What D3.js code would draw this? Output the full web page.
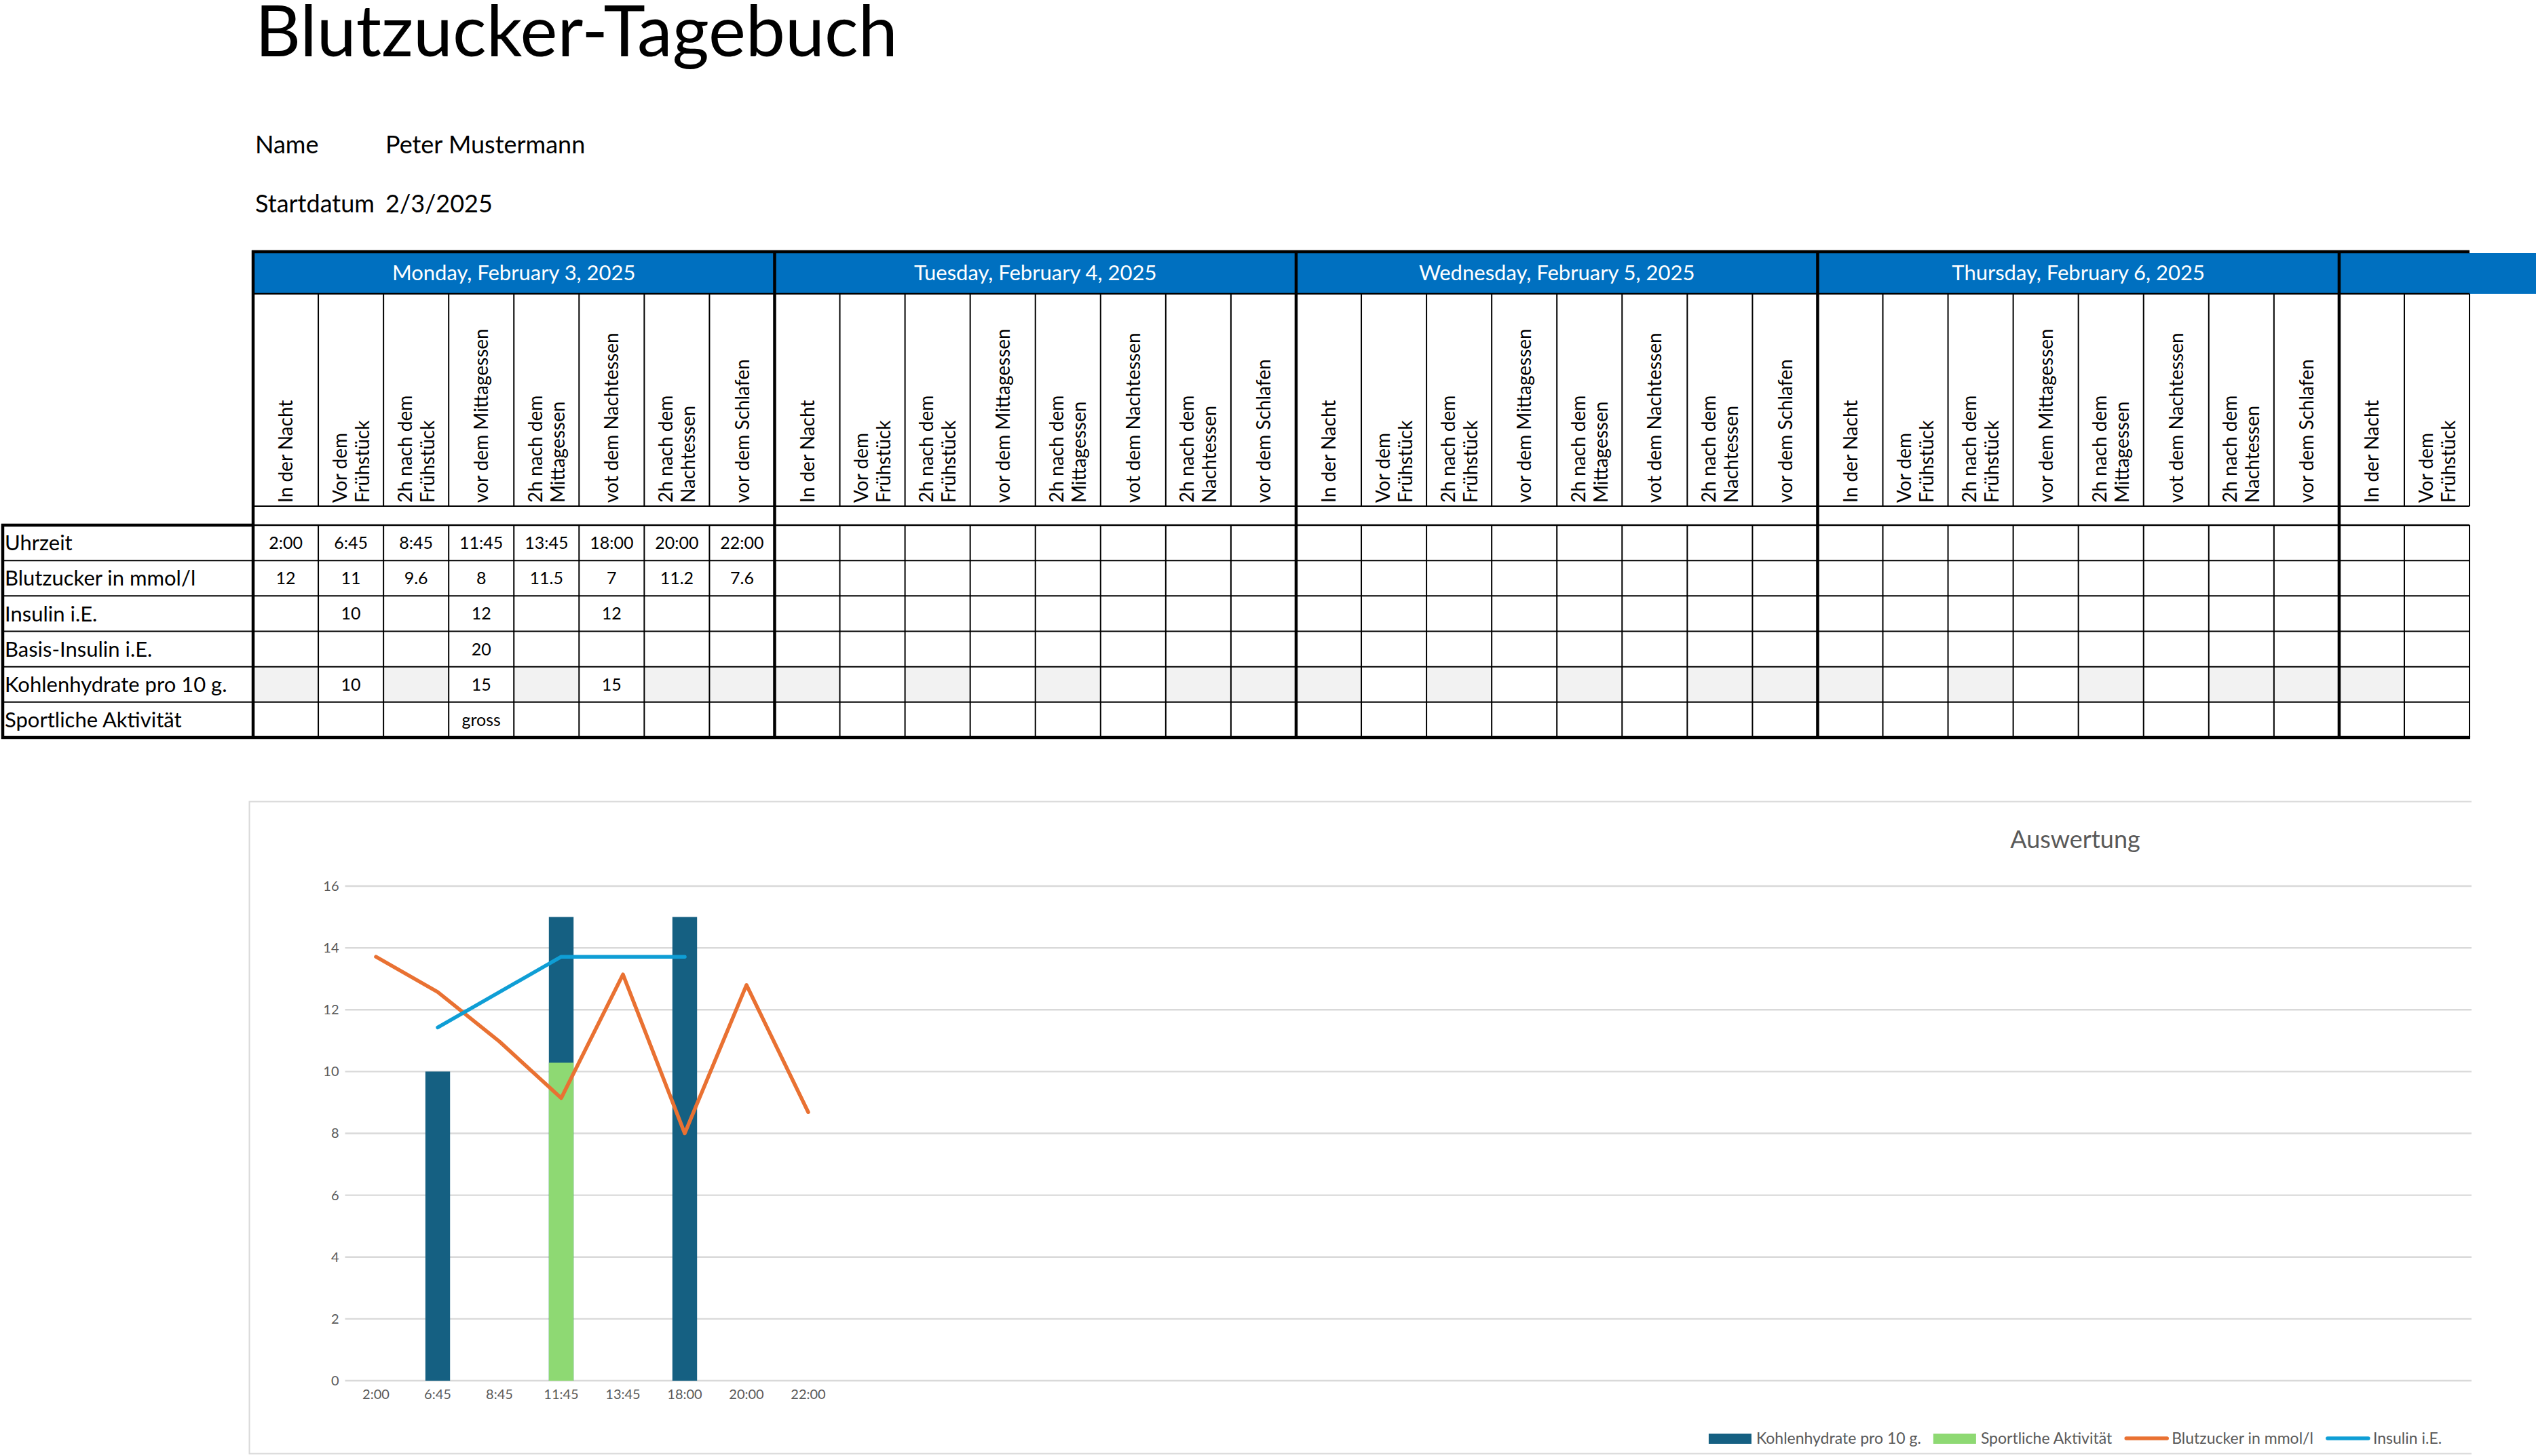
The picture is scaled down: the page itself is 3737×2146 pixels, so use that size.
<!DOCTYPE html>
<html lang="de">
<head>
<meta charset="utf-8">
<title>Blutzucker-Tagebuch</title>
<script src="https://cdn.jsdelivr.net/npm/d3@7"></script>
<style>
  html, body { margin: 0; padding: 0; background: #fff; }
  svg { display: block; font-family: Lato, "Open Sans", sans-serif; }
</style>
</head>
<body>
<svg id="blatt" width="3737" height="2146"></svg>
<script>
/*
    Blutzucker-Tagebuch
    -------------------
    Tabelle mit Messwerten und darunter das Diagramm "Auswertung".
*/

"use strict";

// Kopf
var titel = "Blutzucker-Tagebuch";
var kopfLabels = ["Name", "Startdatum"];
var kopfWerte = ["Peter Mustermann", "2/3/2025"];

// Tage und Messzeitpunkte
var tage = ["Monday, February 3, 2025", "Tuesday, February 4, 2025", "Wednesday, February 5, 2025",
    "Thursday, February 6, 2025", "Friday, February 7, 2025", "Saturday, February 8, 2025", "Sunday, February 9, 2025"];
var zeitpunkte = ["In der Nacht", "Vor dem\nFrühstück", "2h nach dem\nFrühstück", "vor dem Mittagessen",
    "2h nach dem\nMittagessen", "vot dem Nachtessen", "2h nach dem\nNachtessen", "vor dem Schlafen"];
var zeilen = ["Uhrzeit", "Blutzucker in mmol/l", "Insulin i.E.", "Basis-Insulin i.E.",
    "Kohlenhydrate pro 10 g.", "Sportliche Aktivität"];

// Messwerte Montag
var uhrzeiten = ["2:00", "6:45", "8:45", "11:45", "13:45", "18:00", "20:00", "22:00"];
var blutzucker = [12, 11, 9.6, 8, 11.5, 7, 11.2, 7.6];
var insulin = [null, 10, null, 12, null, 12, null, null];
var basisInsulin = [null, null, null, 20, null, null, null, null];
var kohlenhydrate = [null, 10, null, 15, null, 15, null, null];
var sport = [null, null, null, "gross", null, null, null, null];
// "gross" als Zahl im Diagramm (Sekundärachse)
var sportWert = [null, null, null, 9, null, null, null, null];

// Diagramm
var diagrammTitel = "Auswertung";
var legende = ["Kohlenhydrate pro 10 g.", "Sportliche Aktivität", "Blutzucker in mmol/l", "Insulin i.E."];

var farben = {
    blau: "#0070C0",
    kohlenhydrate: "#156082",
    sport: "#8ED973",
    blutzucker: "#E97132",
    insulin: "#0F9ED5",
    raster: "#D9D9D9",
    text: "#595959",
    grau: "#F2F2F2"
};

var svg = d3.select("#blatt");

// ---------- Kopf ----------
svg.append("text")
    .attr("x", 376).attr("y", 83)
    .style("font-size", "104px")
    .text(titel);

svg.selectAll("text.kopf")
    .data(kopfLabels)
    .enter().append("text")
    .attr("class", "kopf")
    .attr("x", 376)
    .attr("y", function (d, i) { return 226 + i * 87; })
    .style("font-size", "36px")
    .text(function (d) { return d; });

svg.selectAll("text.kopfwert")
    .data(kopfWerte)
    .enter().append("text")
    .attr("class", "kopfwert")
    .attr("x", 568)
    .attr("y", function (d, i) { return 226 + i * 87; })
    .style("font-size", "36px")
    .text(function (d) { return d; });

// ---------- Tabelle ----------
var sichtbareSpalten = 34;
var spaltenBreite = 96.06;
var tabLinks = 373;
var tabRechts = tabLinks + sichtbareSpalten * spaltenBreite;
var spalte = d3.scaleBand().domain(d3.range(sichtbareSpalten)).range([tabLinks, tabRechts]);
var zeile = d3.scaleBand().domain(d3.range(zeilen.length)).range([774, 1087]);

var tabelle = svg.append("g");

// Tagesköpfe (blau)
var sichtbareTage = d3.range(Math.ceil(sichtbareSpalten / 8));
tabelle.selectAll("rect.tag")
    .data(sichtbareTage)
    .enter().append("rect")
    .attr("class", "tag")
    .attr("x", function (d) { return spalte(d * 8); })
    .attr("y", 373)
    .attr("width", function (d) {
        return (d + 1) * 8 <= sichtbareSpalten ? 8 * spaltenBreite : 3737 - spalte(d * 8);
    })
    .attr("height", 60)
    .style("fill", farben.blau);

tabelle.selectAll("text.tag")
    .data(sichtbareTage.filter(function (d) { return (d + 1) * 8 <= sichtbareSpalten; }))
    .enter().append("text")
    .attr("class", "tag")
    .attr("x", function (d) { return spalte(d * 8) + 4 * spaltenBreite; })
    .attr("y", 413)
    .attr("text-anchor", "middle")
    .style("font-size", "31px")
    .style("fill", "white")
    .text(function (d) { return tage[d]; });

// Kohlenhydrate-Zeile: graue Felder
var grauesFeld = [true, false, true, false, true, false, true, true];
tabelle.selectAll("rect.grau")
    .data(d3.range(sichtbareSpalten).filter(function (c) { return grauesFeld[c % 8]; }))
    .enter().append("rect")
    .attr("class", "grau")
    .attr("x", function (c) { return spalte(c); })
    .attr("y", zeile(4))
    .attr("width", spaltenBreite)
    .attr("height", zeile.bandwidth())
    .style("fill", farben.grau);

// gedrehte Spaltenköpfe
var kopf = tabelle.selectAll("text.zeitpunkt")
    .data(d3.range(sichtbareSpalten))
    .enter().append("text")
    .attr("class", "zeitpunkt")
    .attr("transform", function (c) {
        return "translate(" + (spalte(c) + spaltenBreite / 2) + ",741) rotate(-90)";
    })
    .style("font-size", "28px");
kopf.selectAll("tspan")
    .data(function (c) {
        var teile = zeitpunkte[c % 8].split("\n");
        return teile.map(function (t, i) { return { t: t, dy: (i - (teile.length - 1) / 2) * 33 }; });
    })
    .enter().append("tspan")
    .attr("x", 0)
    .attr("y", function (d) { return d.dy; })
    .attr("dy", "0.36em")
    .text(function (d) { return d.t; });

// Zeilenbeschriftung
tabelle.selectAll("text.zeile")
    .data(zeilen)
    .enter().append("text")
    .attr("class", "zeile")
    .attr("x", 7)
    .attr("y", function (d, i) { return zeile(i) + zeile.bandwidth() / 2; })
    .attr("dy", "0.36em")
    .style("font-size", "31px")
    .text(function (d) { return d; });

// Zellwerte
var tabellenWerte = [uhrzeiten, blutzucker, insulin, basisInsulin, kohlenhydrate, sport];
var zellen = [];
tabellenWerte.forEach(function (reihe, r) {
    reihe.forEach(function (v, c) {
        if (v !== null) zellen.push({ r: r, c: c, v: v });
    });
});
tabelle.selectAll("text.wert")
    .data(zellen)
    .enter().append("text")
    .attr("class", "wert")
    .attr("x", function (d) { return spalte(d.c) + spaltenBreite / 2; })
    .attr("y", function (d) { return zeile(d.r) + zeile.bandwidth() / 2; })
    .attr("dy", "0.36em")
    .attr("text-anchor", "middle")
    .style("font-size", "25px")
    .text(function (d) { return d.v; });

// Linien
function linie(x1, y1, x2, y2, breite) {
    tabelle.append("line")
        .attr("x1", x1).attr("y1", y1).attr("x2", x2).attr("y2", y2)
        .style("stroke", "#000").style("stroke-width", breite);
}
d3.range(1, sichtbareSpalten + 1).forEach(function (c) {
    var x = c < sichtbareSpalten ? spalte(c) : tabRechts;
    if (c % 8 !== 0 || c === sichtbareSpalten) {
        linie(x, 433, x, 746, 2);
        linie(x, 774, x, 1087, 2);
    }
});
zeile.domain().slice(1).forEach(function (r) { linie(4, zeile(r), tabRechts, zeile(r), 2); });
linie(tabLinks, 433, tabRechts, 433, 2.5);
linie(tabLinks, 746, tabRechts, 746, 2);
linie(tabLinks, 774, tabRechts, 774, 2.5);
linie(2, 774, tabLinks, 774, 4.5);
linie(tabLinks - 2, 371, tabRechts, 371, 4.5);
linie(2, 1087, tabRechts + 1, 1087, 4.5);
linie(4, 772, 4, 1089, 4.5);
d3.range(0, sichtbareSpalten, 8).forEach(function (c) {
    linie(spalte(c), 369, spalte(c), 1089, 4.5);
});

// ---------- Diagramm ----------
var kategorien = d3.range(tage.length * 8);
var kategorieLabel = kategorien.map(function (i) { return i < 8 ? uhrzeiten[i] : ""; });

var x = d3.scaleBand().domain(kategorien).range([508.5, 508.5 + kategorien.length * 91]);
var y = d3.scaleLinear().domain([0, 16]).range([2035, 1306]);
var y2 = d3.scaleLinear().domain([0, 14]).range([2035, 1306]);
var balkenBreite = x.bandwidth() * 0.4;

svg.append("clipPath").attr("id", "ausschnitt")
    .append("rect").attr("x", 360).attr("y", 1170).attr("width", 3282).attr("height", 976);

var diagramm = svg.append("g").attr("clip-path", "url(#ausschnitt)");

// Rahmen (rechts abgeschnitten)
diagramm.append("path")
    .attr("d", "M3800,1181.5 H367.5 V2142.5 H3800")
    .style("fill", "none")
    .style("stroke", farben.raster)
    .style("stroke-width", 2);

diagramm.selectAll("line.raster")
    .data(y.ticks(8))
    .enter().append("line")
    .attr("class", "raster")
    .attr("x1", x.range()[0]).attr("x2", x.range()[1])
    .attr("y1", function (d) { return y(d); })
    .attr("y2", function (d) { return y(d); })
    .style("stroke", farben.raster)
    .style("stroke-width", 2.3);

var yAchse = diagramm.append("g")
    .attr("transform", "translate(" + (x.range()[0] - 1) + ",0)")
    .call(d3.axisLeft(y).tickValues(y.ticks(8)).tickSize(0).tickPadding(8));
var xAchse = diagramm.append("g")
    .attr("transform", "translate(0," + y(0) + ")")
    .call(d3.axisBottom(x).tickSize(0).tickPadding(13).tickFormat(function (i) { return kategorieLabel[i]; }));
[yAchse, xAchse].forEach(function (a) {
    a.select(".domain").remove();
    a.selectAll("text")
        .style("font-family", "Lato")
        .style("font-size", "20px")
        .style("fill", farben.text);
});

function balkenDaten(werte) {
    return werte.map(function (v, i) { return { i: i, v: v }; }).filter(function (d) { return d.v !== null; });
}

diagramm.selectAll("rect.kohlenhydrate")
    .data(balkenDaten(kohlenhydrate))
    .enter().append("rect")
    .attr("class", "kohlenhydrate")
    .attr("x", function (d) { return x(d.i) + (x.bandwidth() - balkenBreite) / 2; })
    .attr("y", function (d) { return y(d.v); })
    .attr("width", balkenBreite)
    .attr("height", function (d) { return y(0) - y(d.v); })
    .style("fill", farben.kohlenhydrate);

diagramm.selectAll("rect.sport")
    .data(balkenDaten(sportWert))
    .enter().append("rect")
    .attr("class", "sport")
    .attr("x", function (d) { return x(d.i) + (x.bandwidth() - balkenBreite) / 2; })
    .attr("y", function (d) { return y2(d.v); })
    .attr("width", balkenBreite)
    .attr("height", function (d) { return y2(0) - y2(d.v); })
    .style("fill", farben.sport);

var linienGenerator = d3.line()
    .x(function (d) { return x(d.i) + x.bandwidth() / 2; })
    .y(function (d) { return y2(d.v); });

[[blutzucker, farben.blutzucker], [insulin, farben.insulin]].forEach(function (reihe) {
    diagramm.append("path")
        .datum(balkenDaten(reihe[0]))
        .attr("d", linienGenerator)
        .style("fill", "none")
        .style("stroke", reihe[1])
        .style("stroke-width", 5.5)
        .style("stroke-linejoin", "round")
        .style("stroke-linecap", "round");
});

diagramm.append("text")
    .attr("x", 3058).attr("y", 1250)
    .attr("text-anchor", "middle")
    .style("font-size", "36px")
    .style("fill", farben.text)
    .text(diagrammTitel);

// Legende
var legendenFarben = [farben.kohlenhydrate, farben.sport, farben.blutzucker, farben.insulin];
var legendenArt = ["balken", "balken", "linie", "linie"];
var legY = 2120;
var leg = diagramm.append("g");
var eintraege = leg.selectAll("g")
    .data(legende)
    .enter().append("g");
eintraege.append("text")
    .attr("x", 70)
    .attr("y", legY)
    .attr("dy", "0.36em")
    .style("font-size", "23px")
    .style("fill", farben.text)
    .text(function (d) { return d; });
eintraege.each(function (d, i) {
    var g = d3.select(this);
    if (legendenArt[i] === "balken") {
        g.append("rect").attr("x", 0).attr("y", legY - 7).attr("width", 63).attr("height", 15)
            .style("fill", legendenFarben[i]);
    } else {
        g.append("line").attr("x1", 3).attr("x2", 63).attr("y1", legY).attr("y2", legY)
            .style("stroke", legendenFarben[i]).style("stroke-width", 5.5).style("stroke-linecap", "round");
    }
});
var pos = 0;
var breiten = [];
eintraege.each(function () {
    breiten.push(70 + d3.select(this).select("text").node().getComputedTextLength());
});
var gesamt = d3.sum(breiten) + 18 * (breiten.length - 1);
var start = 3058 - gesamt / 2;
eintraege.attr("transform", function (d, i) {
    var t = "translate(" + (start + pos) + ",0)";
    pos += breiten[i] + 18;
    return t;
});
</script>
</body>
</html>
